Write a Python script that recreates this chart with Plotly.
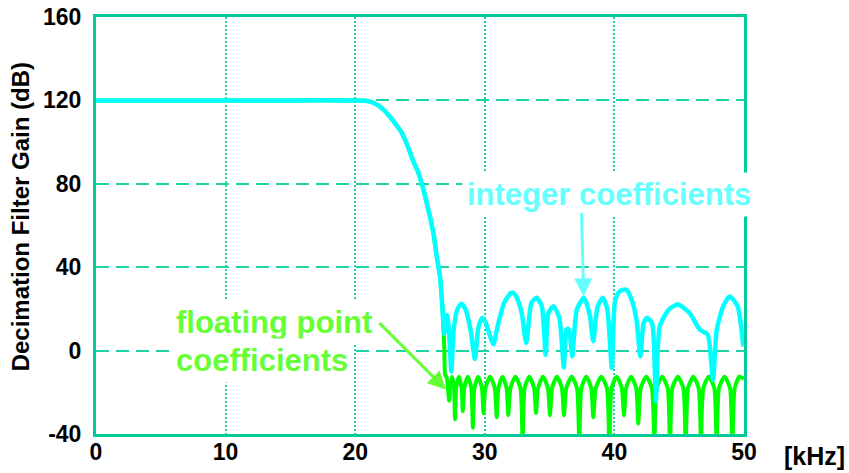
import plotly.graph_objects as go

# ---------------- data ----------------
# pass band + transition (shared by both responses)
pass_khz = [0, 5, 10, 15, 20, 20.8, 21.4, 22.17, 22.94, 23.59, 24.10, 24.48, 24.87,
            25.26, 25.64, 26.03, 26.29, 26.54, 26.67, 26.8]
pass_db = [120, 120, 120, 120, 120, 119.8, 118.9, 115.7, 110.1, 104.5, 97.3, 90.9, 85.3,
           77.3, 67.7, 56.5, 45.3, 35.7, 26.1, 13.3]

# integer-coefficient stop band
int_khz = [26.86, 27.0, 27.1, 27.25, 27.42, 27.6, 27.9, 28.2, 28.5, 28.9, 29.24, 29.5,
           29.8, 30.1, 30.4, 30.66, 31.0, 31.5, 32.0, 32.2, 32.5, 32.85, 33.2, 33.6,
           34.0, 34.4, 34.7, 34.9, 35.3, 35.75, 36.1, 36.3, 36.45, 36.6, 36.75, 37.1,
           37.65, 38.1, 38.37, 38.7, 39.1, 39.45, 39.8, 40.05, 40.4, 40.9, 41.3, 41.7,
           42.0, 42.25, 42.5, 42.9, 43.2, 43.5, 44.2, 44.9, 45.8, 46.6, 47.2, 47.6,
           47.9, 48.4, 48.9, 49.5, 49.95]
int_db = [8, 16, 17, 8, -10, 10, 20, 22.5, 20, 10, -4, 11,
          15.7, 13, 7, 3, 12, 23, 27.5, 27.7, 25, 18, 3.7, 22.9,
          25.3, 21.3, -2, 18, 21.3, 15.7, -8, 10, 10.5, 6, -2.7, 19.7,
          25.3, 17, 4.5, 21, 25.3, 20, -8.3, 24, 28.5, 29.3, 25, 15,
          -2.7, 13, 15.7, 13.3, -24.3, 11.7, 19.7, 22.1, 18, 10, 7.7, -14,
          10, 21.3, 26, 21.3, 2]

# floating-point-coefficient stop band
flt_khz = [26.88, 26.95, 27.05, 27.25,
           27.32, 27.475, 27.63, 27.70,
           27.79, 28.0, 28.21, 28.30,
           28.42, 28.69, 28.96, 29.08,
           29.20, 29.49, 29.78, 29.90,
           30.05, 30.41, 30.77, 30.92,
           31.05, 31.365, 31.68, 31.81,
           31.98, 32.365, 32.75, 32.92,
           33.07, 33.435, 33.80, 33.95,
           34.11, 34.49, 34.87, 35.03,
           35.19, 35.57, 35.95, 36.11,
           36.29, 36.70, 37.11, 37.29,
           37.45, 37.83, 38.21, 38.37,
           38.56, 38.99, 39.42, 39.61,
           39.78, 40.175, 40.57, 40.74,
           40.90, 41.29, 41.68, 41.84,
           42.03, 42.46, 42.89, 43.08,
           43.26, 43.685, 44.11, 44.29,
           44.47, 44.895, 45.32, 45.50,
           45.68, 46.09, 46.50, 46.68,
           46.86, 47.285, 47.71, 47.89,
           48.07, 48.495, 48.92, 49.10,
           49.28, 49.65, 50.0]
flt_db = [0, -12, -12.5, -24,
          -18, -12.5, -18, -33,
          -18, -12.5, -18, -29,
          -18, -12.5, -18, -37,
          -18, -12.5, -18, -30,
          -18, -12.5, -18, -32,
          -18, -12.5, -18, -31,
          -18, -12.5, -18, -44,
          -18, -12.5, -18, -30,
          -18, -12.5, -18, -31,
          -18, -12.5, -18, -31,
          -18, -12.5, -18, -44,
          -18, -12.5, -18, -32,
          -18, -12.5, -18, -46,
          -18, -12.5, -18, -31,
          -18, -12.5, -18, -35,
          -18, -12.5, -18, -44,
          -18, -12.5, -18, -46,
          -18, -12.5, -18, -46,
          -18, -12.5, -18, -43,
          -18, -12.5, -18, -46,
          -18, -12.5, -18, -46,
          -18, -12.5, -13.5]

x_ticks = [0, 10, 20, 30, 40, 50]
y_ticks = [-40, 0, 40, 80, 120, 160]
y_tick_labels = ["-40", "0", "40", "80", "120", "160"]

# ---------------- styles ----------------
FRAME = "#00CC99"
GRID = "#1DD3A3"
CYAN = "#00FFFF"
GREEN = "#00FF00"
CYAN_TXT = "#66FFFF"
GREEN_TXT = "#66FF33"
FONT = "Liberation Sans, Arial, sans-serif"

fig = go.Figure()
fig.add_trace(go.Scatter(x=pass_khz + flt_khz, y=pass_db + flt_db, mode="lines",
                         line=dict(color=GREEN, width=4, shape="spline", smoothing=0.6),
                         hoverinfo="skip"))
fig.add_trace(go.Scatter(x=pass_khz + int_khz, y=pass_db + int_db, mode="lines",
                         line=dict(color=CYAN, width=4.5, shape="spline", smoothing=0.6),
                         hoverinfo="skip"))

axis_common = dict(showline=True, mirror=True, linecolor=FRAME, linewidth=3,
                   zeroline=False, showgrid=True, gridcolor=GRID, gridwidth=2,
                   ticks="", automargin=False,
                   tickfont=dict(family=FONT, size=23, color="black", weight="bold"))

fig.update_xaxes(range=[0, 50], tickvals=x_ticks, griddash="2px,2px",
                 ticklabelstandoff=-5, **axis_common)
fig.update_yaxes(range=[-40, 160], tickvals=y_ticks, ticktext=y_tick_labels,
                 griddash="13px,7px", ticklabelstandoff=7, **axis_common)

annotations = [
    dict(text="Decimation Filter Gain (dB)", xref="paper", yref="paper",
         x=-0.117, y=0.52, xanchor="center", yanchor="middle",
         textangle=-90, showarrow=False,
         font=dict(family=FONT, size=24, color="black", weight="bold")),
    dict(text="[kHz]", xref="paper", yref="paper", x=1.109, y=-0.053,
         xanchor="center", yanchor="middle", showarrow=False,
         font=dict(family=FONT, size=25, color="black", weight="bold")),
    dict(text="integer coefficients", xref="x", yref="y", x=39.55, y=75,
         xanchor="center", yanchor="middle",
         showarrow=False, bgcolor="white", borderpad=4,
         font=dict(family=FONT, size=31, color=CYAN_TXT, weight="bold")),
    dict(text="", xref="x", yref="y", x=37.62, y=26, ax=-2, ay=-85,
         showarrow=True, arrowhead=2, arrowsize=1.2, arrowwidth=3, arrowcolor=CYAN_TXT),
    dict(text="floating point", xref="x", yref="y", x=5.75, y=13.4,
         xanchor="left", yanchor="middle",
         showarrow=False, bgcolor="white", borderpad=4,
         font=dict(family=FONT, size=31, color=GREEN_TXT, weight="bold")),
    dict(text="coefficients", xref="x", yref="y", x=5.75, y=-4.8,
         xanchor="left", yanchor="middle",
         showarrow=False, bgcolor="white", borderpad=4,
         font=dict(family=FONT, size=31, color=GREEN_TXT, weight="bold")),
    dict(text="", xref="x", yref="y", x=27.0, y=-18.7, ax=-68, ay=-68,
         showarrow=True, arrowhead=2, arrowsize=1.2, arrowwidth=3, arrowcolor=GREEN_TXT),
]

fig.update_layout(width=849, height=473, margin=dict(l=96, r=105, t=17, b=39),
                  paper_bgcolor="white", plot_bgcolor="white", showlegend=False,
                  annotations=annotations)

fig.write_html("out.html")
